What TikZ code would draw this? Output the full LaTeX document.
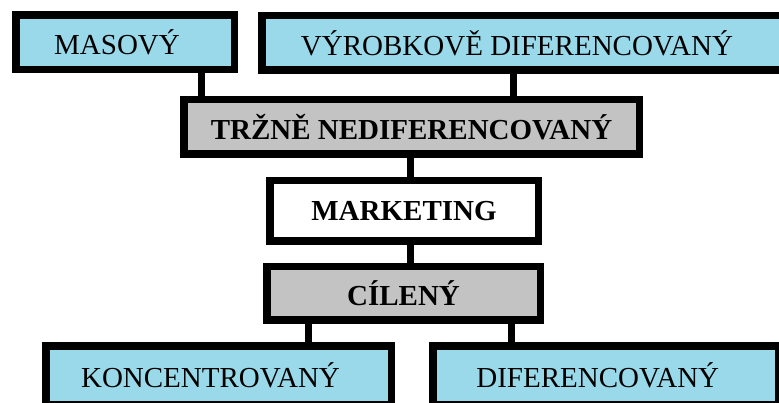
\documentclass[tikz,border=0pt]{standalone}
\usepackage{fontspec}
\setmainfont{Liberation Serif}
\usetikzlibrary{positioning}
\definecolor{lightcyan}{HTML}{99D9EA}
\definecolor{midgray}{HTML}{C3C3C3}

\begin{document}
\begin{tikzpicture}[x=1pt,y=1pt]
  \tikzstyle{box}=[draw,line width=7.5pt,inner sep=0pt,minimum height=54.5pt,font=\fontsize{29}{32}\selectfont]
  \tikzstyle{sidebox}=[box,fill=lightcyan,execute at end node={\hspace*{16pt}}]
  \tikzstyle{midbox}=[box,fill=midgray,font=\fontsize{29}{32}\selectfont\bfseries]
  \tikzstyle{link}=[line width=7pt]
  \useasboundingbox[fill=white] (0,0) rectangle (779,-403);
  \node[sidebox,minimum width=218.5pt] (mas) at (125,-42.5) {MASOVÝ};
  \node[sidebox,minimum width=526.5pt] (vyr) at (525,-43) {VÝROBKOVĚ DIFERENCOVANÝ};
  \node[midbox,minimum width=455.5pt] (trz) at (411.5,-127) {TRŽNĚ NEDIFERENCOVANÝ};
  \node[box,fill=white,font=\fontsize{29}{32}\selectfont\bfseries,minimum width=268.5pt,minimum height=60.5pt] (mark) at (404,-211) {MARKETING};
  \node[midbox,minimum width=273.5pt,minimum height=53.5pt] (cil) at (403.5,-293.5) {CÍLENÝ};
  \node[sidebox,minimum width=345.5pt,minimum height=59pt] (kon) at (218.5,-375.25) {KONCENTROVANÝ};
  \node[sidebox,minimum width=346pt,minimum height=59pt] (dif) at (605.75,-375.25) {DIFERENCOVANÝ};
  \draw[link] ([xshift=76pt]mas.south) -- ([xshift=76pt]mas.south |- trz.north);
  \draw[link] ([xshift=-12pt]vyr.south) -- ([xshift=-12pt]vyr.south |- trz.north);
  \draw[link] ([xshift=6pt]mark.north |- trz.south) -- ([xshift=6pt]mark.north);
  \draw[link] ([xshift=6pt]mark.south) -- ([xshift=6pt]mark.south |- cil.north);
  \draw[link] ([xshift=-95.5pt]cil.south) -- ([xshift=-95.5pt]cil.south |- kon.north);
  \draw[link] ([xshift=107.5pt]cil.south) -- ([xshift=107.5pt]cil.south |- dif.north);
\end{tikzpicture}
\end{document}
